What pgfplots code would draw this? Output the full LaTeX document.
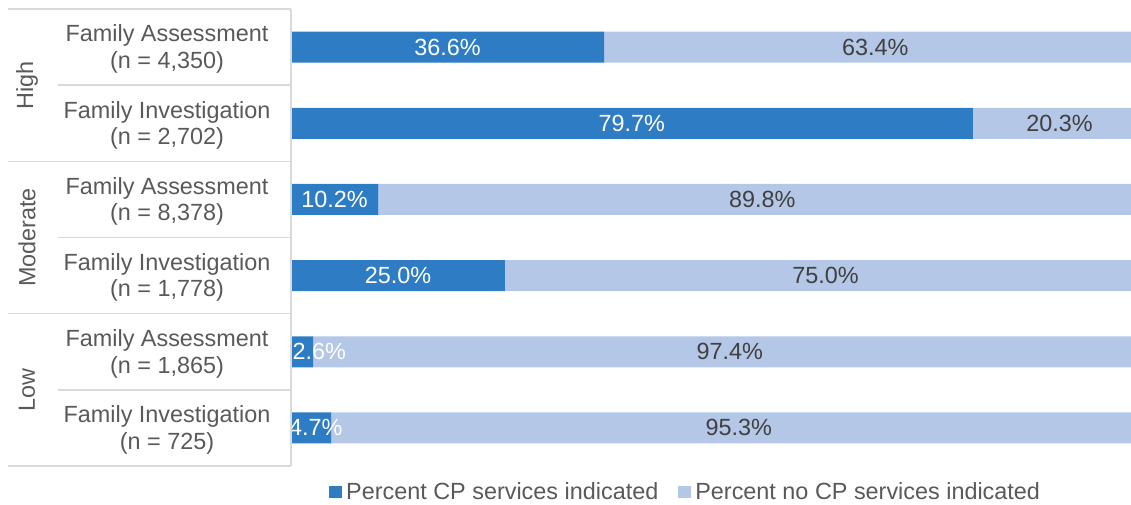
\documentclass[border=0pt]{standalone}
\usepackage{fontspec}
\setmainfont{Liberation Sans}
\usepackage{pgfplots}
\usepackage{pgfplotstable}
\pgfplotsset{compat=1.18}

\definecolor{cpdark}{HTML}{2E7CC4}
\definecolor{cplight}{HTML}{B4C7E7}
\definecolor{txtgray}{HTML}{595959}
\definecolor{lblgray}{HTML}{404040}
\definecolor{rulegray}{HTML}{D9D9D9}

% share of cases with / without CP services, rows top to bottom
\pgfplotstableread{
row cp   nocp
0   36.6 63.4
1   79.7 20.3
2   10.2 89.8
3   25.0 75.0
4   2.6  97.4
5   4.7  95.3
}\cpdata

% label positions (middle of each segment), value shown
\pgfplotstableread{
x     y v
18.3  0 36.6
39.85 1 79.7
5.1   2 10.2
12.5  3 25.0
3.3   4 2.6
2.9   5 4.7
}\darklabels
\pgfplotstableread{
x     y v
68.3  0 63.4
89.85 1 20.3
55.1  2 89.8
62.5  3 75.0
51.3  4 97.4
52.35 5 95.3
}\lightlabels

\newcommand{\lblfont}{\fontsize{11.7}{13.2}\selectfont}

\begin{document}
\begin{tikzpicture}
\useasboundingbox (0,0) rectangle (565.5pt,-252pt);
\pgfplotsset{cpbase/.style={
    scale only axis, width=420pt, height=228.5pt,
    at={(145.5pt,-4.5pt)}, anchor=north west,
    xmin=0, xmax=98.2, ymin=-0.5, ymax=5.5, y dir=reverse}}

\begin{axis}[cpbase,
    xbar stacked, bar width=15.5pt,
    axis line style={draw=none},
    xtick=\empty,
    ytick={0,...,5},
    yticklabels={{Family Assessment\\(n = 4,350)},
                 {Family Investigation\\(n = 2,702)},
                 {Family Assessment\\(n = 8,378)},
                 {Family Investigation\\(n = 1,778)},
                 {Family Assessment\\(n = 1,865)},
                 {Family Investigation\\(n = 725)}},
    major tick length=0pt,
    yticklabel style={align=center, anchor=center, xshift=-62pt, yshift=-1pt,
        text=txtgray, font=\lblfont},
    legend style={at={(0.471,-0.057)}, anchor=center, draw=none,
        legend columns=2, font=\lblfont, text=txtgray,
        /tikz/every even column/.append style={column sep=8pt}},
    legend image code/.code={\fill[#1] (0pt,-3.2pt) rectangle (6.5pt,3.2pt);},
    ]
\addplot[fill=cpdark, draw=none] table[x=cp, y=row] {\cpdata};
\addplot[fill=cplight, draw=none] table[x=nocp, y=row] {\cpdata};
\legend{Percent CP services indicated, Percent no CP services indicated}
\end{axis}

\begin{axis}[cpbase, hide axis, clip=false,
    /pgf/number format/assume math mode=true,
    every node near coord/.append style={anchor=center, font=\lblfont},
    ]
\addplot[draw=none, point meta=explicit,
    nodes near coords={\pgfmathprintnumber[fixed,fixed zerofill,precision=1]{\pgfplotspointmeta}\%},
    every node near coord/.append style={text=white}]
    table[x=x, y=y, meta=v] {\darklabels};
\addplot[draw=none, point meta=explicit,
    nodes near coords={\pgfmathprintnumber[fixed,fixed zerofill,precision=1]{\pgfplotspointmeta}\%},
    every node near coord/.append style={text=lblgray}]
    table[x=x, y=y, meta=v] {\lightlabels};
\end{axis}

% table rules on the left
\draw[rulegray, line width=0.8pt] (145.5pt,-4.5pt) -- (145.5pt,-233pt);
\foreach \k/\xs in {0/4,1/29,2/4,3/29,4/4,5/29,6/4}
  \draw[rulegray, line width=0.8pt] (\xs pt,{-4.5pt-38.083pt*\k}) -- (145.5pt,{-4.5pt-38.083pt*\k});
\foreach \k/\name in {1/High,3/Moderate,5/Low}
  \node[rotate=90, text=txtgray, font=\lblfont] at (13.5pt,{-4.5pt-38.083pt*\k}) {\name};
\end{tikzpicture}
\end{document}
